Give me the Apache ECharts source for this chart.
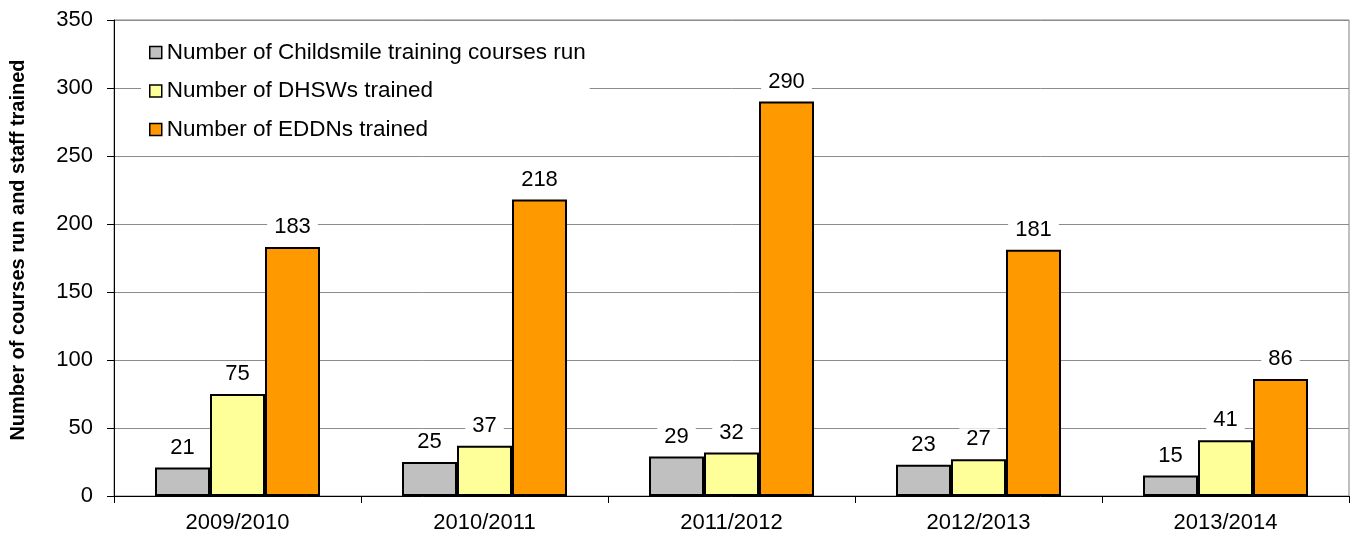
<!DOCTYPE html>
<html>
<head>
<meta charset="utf-8">
<script src="https://cdn.jsdelivr.net/npm/echarts@6/dist/echarts.min.js"></script>
<style>
  html, body { margin: 0; padding: 0; background: #fff; }
  #chart { width: 1355px; height: 536px; }
</style>
</head>
<body>
<div id="chart"></div>
<script>
// Training activity by financial year
const years = ['2009/2010', '2010/2011', '2011/2012', '2012/2013', '2013/2014'];
const coursesRun = [21, 25, 29, 23, 15];
const dhswTrained = [75, 37, 32, 27, 41];
const eddnTrained = [183, 218, 290, 181, 86];
const seriesNames = [
  'Number of Childsmile training courses run',
  'Number of DHSWs trained',
  'Number of EDDNs trained'
];
const seriesColors = ['#c0c0c0', '#ffff99', '#ff9900'];
const yTicks = { min: 0, max: 350, interval: 50 };

const FONT = '"Liberation Sans", Arial, sans-serif';

function barSeries(name, data, color) {
  return {
    name: name,
    type: 'bar',
    data: data,
    barWidth: 55,
    barGap: '0%',
    itemStyle: { color: color, borderColor: '#000', borderWidth: 2 },
    label: {
      show: true,
      position: 'top',
      distance: 9,
      color: '#000',
      fontFamily: FONT,
      fontSize: 22,
      lineHeight: 22,
      backgroundColor: '#fff',
      padding: [0, 7]
    },
    emphasis: { disabled: true }
  };
}

const chart = echarts.init(document.getElementById('chart'), null, { renderer: 'canvas' });
chart.setOption({
  backgroundColor: '#fff',
  animation: false,
  grid: {
    left: 114, right: 6, top: 20, bottom: 40,
    outerBoundsMode: 'none',
    containLabel: false,
    show: true, borderColor: '#808080', borderWidth: 1, backgroundColor: 'transparent'
  },
  legend: {
    orient: 'vertical',
    left: 141,
    top: 31,
    itemWidth: 12,
    itemHeight: 12,
    itemGap: 15.5,
    icon: 'rect',
    backgroundColor: '#fff',
    padding: [10, 4, 10, 8],
    textStyle: { fontFamily: FONT, fontSize: 22.5, lineHeight: 22, color: '#000' },
    itemStyle: { borderColor: '#000', borderWidth: 1.5 },
    data: seriesNames
  },
  xAxis: {
    type: 'category',
    data: years,
    axisLine: { lineStyle: { color: '#000', width: 1 } },
    axisTick: { show: true, alignWithLabel: false, length: 7, lineStyle: { color: '#000' } },
    axisLabel: { fontFamily: FONT, fontSize: 22, color: '#000', margin: 16 }
  },
  yAxis: {
    type: 'value',
    min: yTicks.min,
    max: yTicks.max,
    interval: yTicks.interval,
    name: 'Number of courses run and staff trained',
    nameLocation: 'middle',
    nameGap: 86,
    nameTextStyle: {
      fontFamily: FONT, fontSize: 20, fontWeight: 'bold', color: '#000',
      padding: [0, 0, 0, 16]
    },
    axisLine: { show: true, lineStyle: { color: '#000', width: 1 } },
    axisTick: { show: true, length: 7, lineStyle: { color: '#000' } },
    axisLabel: { fontFamily: FONT, fontSize: 22, color: '#000', margin: 21 },
    splitLine: { show: true, lineStyle: { color: '#8c8c8c', width: 1 } }
  },
  series: [
    barSeries(seriesNames[0], coursesRun, seriesColors[0]),
    barSeries(seriesNames[1], dhswTrained, seriesColors[1]),
    barSeries(seriesNames[2], eddnTrained, seriesColors[2])
  ]
});
</script>
</body>
</html>
